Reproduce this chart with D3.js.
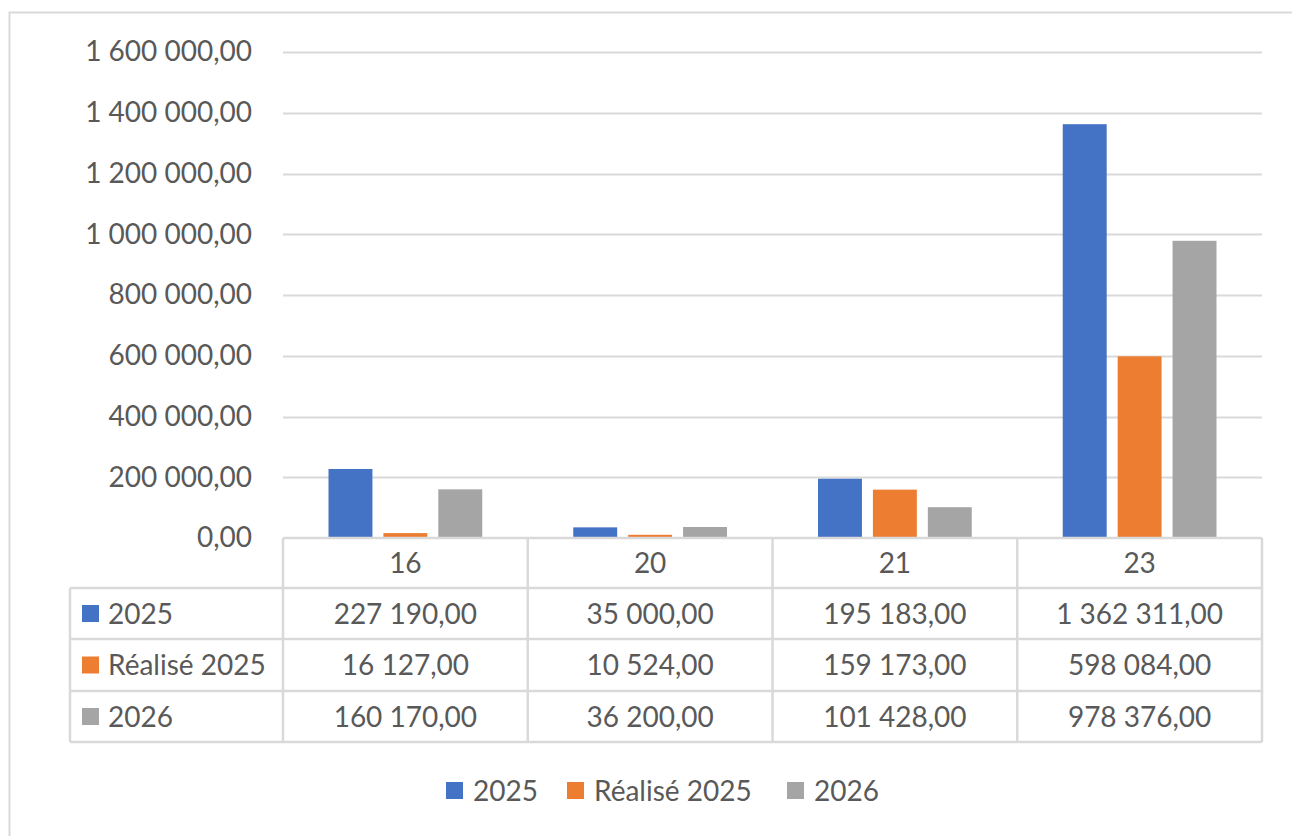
<!DOCTYPE html>
<html>
<head>
<meta charset="utf-8">
<script src="https://cdn.jsdelivr.net/npm/d3@7/dist/d3.min.js"></script>
<style>
  html, body { margin: 0; padding: 0; background: #ffffff; }
  svg { display: block; }
  text { font-family: Lato, "Open Sans", sans-serif; fill: #595959; }
</style>
</head>
<body>
<svg id="chart" width="1292" height="836"></svg>
<script>
// ---- Data ----
const categories = ["16", "20", "21", "23"];
const seriesNames = ["2025", "Réalisé 2025", "2026"];
const values2025 = [227190, 35000, 195183, 1362311];
const valuesRealise2025 = [16127, 10524, 159173, 598084];
const values2026 = [160170, 36200, 101428, 978376];
const yTicks = [0, 200000, 400000, 600000, 800000, 1000000, 1200000, 1400000, 1600000];
const seriesColors = ["#4472C4", "#ED7D31", "#A5A5A5"];

const seriesValues = [values2025, valuesRealise2025, values2026];

// ---- Layout ----
const W = 1292, H = 836;
const plotLeft = 283, plotRight = 1262, plotTop = 52, plotBottom = 538;
const rowEdges = [538, 588, 639, 691, 742];
const tableLeft = 70;
const gridColor = "#d9d9d9";
const fontSize = 28;

const locale = d3.formatLocale({ decimal: ",", thousands: " ", grouping: [3], currency: ["", "€"] });
const fmt = locale.format(",.2f");

const svg = d3.select("#chart");

// outer frame (only top/left visible)
svg.append("rect")
  .attr("x", 9.5).attr("y", 12.5)
  .attr("width", W + 20).attr("height", H + 20)
  .attr("fill", "none").attr("stroke", gridColor).attr("stroke-width", 2);

const x0 = d3.scaleBand().domain(categories).range([plotLeft, plotRight]).paddingInner(0).paddingOuter(0);
const bw = x0.bandwidth();
const x1 = d3.scaleBand().domain(seriesNames).range([45.5, bw - 45.5]).paddingInner(0.2).paddingOuter(0);
const y = d3.scaleLinear().domain([0, 1600000]).range([plotBottom, plotTop]);

// gridlines + y labels via axis
const yAxis = d3.axisLeft(y).tickValues(yTicks).tickFormat(d => fmt(d)).tickSize(0).tickPadding(31);
const gy = svg.append("g").attr("transform", `translate(${plotLeft},0)`).call(yAxis);
gy.select(".domain").remove();
gy.selectAll("text")
  .attr("font-size", fontSize)
  .attr("font-family", "Lato")
  .attr("fill", "#595959");

svg.append("g").selectAll("line").data(yTicks.filter(d => d > 0)).join("line")
  .attr("x1", plotLeft).attr("x2", plotRight)
  .attr("y1", d => Math.round(y(d)) + 0.5).attr("y2", d => Math.round(y(d)) + 0.5)
  .attr("stroke", gridColor).attr("stroke-width", 2);

// bars
const gBars = svg.append("g");
seriesNames.forEach((s, si) => {
  gBars.append("g").selectAll("rect").data(categories).join("rect")
    .attr("x", (c) => x0(c) + x1(s))
    .attr("width", x1.bandwidth())
    .attr("y", (c, i) => y(seriesValues[si][i]))
    .attr("height", (c, i) => plotBottom - y(seriesValues[si][i]))
    .attr("fill", seriesColors[si]);
});

// ---- Data table ----
const gT = svg.append("g");
const line = (x1_, y1_, x2_, y2_) => gT.append("line")
  .attr("x1", x1_).attr("y1", y1_).attr("x2", x2_).attr("y2", y2_)
  .attr("stroke", gridColor).attr("stroke-width", 2.5);

// horizontal lines
line(plotLeft, rowEdges[0], plotRight, rowEdges[0]);
for (let r = 1; r < rowEdges.length; r++) line(tableLeft, rowEdges[r], plotRight, rowEdges[r]);
// vertical lines
line(tableLeft, rowEdges[1], tableLeft, rowEdges[4]);
const colEdges = categories.map(c => x0(c)).concat([plotRight]);
colEdges.forEach(cx => line(cx, rowEdges[0], cx, rowEdges[4]));

// header row
gT.append("g").selectAll("text").data(categories).join("text")
  .attr("x", c => x0(c) + bw / 2)
  .attr("y", (rowEdges[0] + rowEdges[1]) / 2)
  .attr("dy", "0.36em")
  .attr("text-anchor", "middle")
  .attr("font-size", fontSize)
  .text(c => c);

// series rows
seriesNames.forEach((s, si) => {
  const cy = (rowEdges[si + 1] + rowEdges[si + 2]) / 2;
  gT.append("rect").attr("x", 82).attr("y", cy - 8.5).attr("width", 17).attr("height", 17)
    .attr("fill", seriesColors[si]);
  gT.append("text").attr("x", 108).attr("y", cy).attr("dy", "0.36em")
    .attr("font-size", fontSize).text(s);
  gT.append("g").selectAll("text").data(categories).join("text")
    .attr("x", c => x0(c) + bw / 2)
    .attr("y", cy)
    .attr("dy", "0.36em")
    .attr("text-anchor", "middle")
    .attr("font-size", fontSize)
    .text((c, i) => fmt(seriesValues[si][i]));
});

// ---- Legend ----
const legendItems = [
  { name: seriesNames[0], color: seriesColors[0], x: 446 },
  { name: seriesNames[1], color: seriesColors[1], x: 567 },
  { name: seriesNames[2], color: seriesColors[2], x: 787 }
];
const gL = svg.append("g");
legendItems.forEach(it => {
  gL.append("rect").attr("x", it.x).attr("y", 782).attr("width", 17).attr("height", 17).attr("fill", it.color);
  gL.append("text").attr("x", it.x + 27).attr("y", 790.5).attr("dy", "0.36em")
    .attr("font-size", fontSize).text(it.name);
});
</script>
</body>
</html>
